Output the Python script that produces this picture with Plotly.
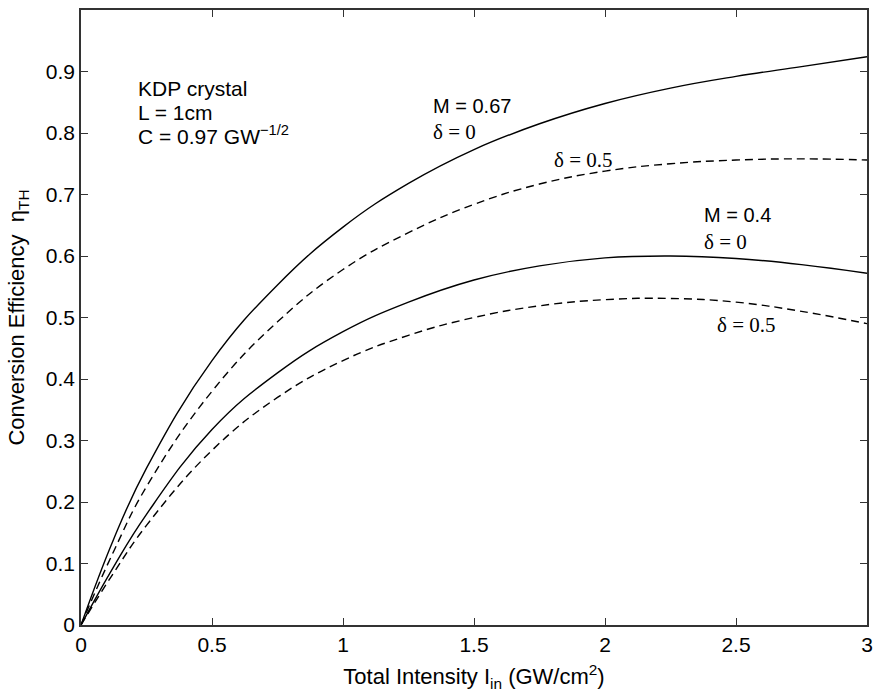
import plotly.graph_objects as go

# Data
intensity = [0, 0.125, 0.25, 0.5, 0.75, 1.0, 1.25, 1.5, 1.75, 2.0, 2.25, 2.5, 2.75, 3.0]
eff_m067_d0 = [0, 0.14, 0.255, 0.43, 0.553, 0.647, 0.718, 0.773, 0.815, 0.848, 0.873, 0.892, 0.908, 0.924]
eff_m067_d05 = [0, 0.12, 0.225, 0.38, 0.493, 0.578, 0.638, 0.684, 0.717, 0.738, 0.75, 0.756, 0.758, 0.756]
eff_m04_d0 = [0, 0.095, 0.18, 0.318, 0.41, 0.477, 0.525, 0.561, 0.584, 0.597, 0.600, 0.596, 0.586, 0.572]
eff_m04_d05 = [0, 0.085, 0.162, 0.284, 0.37, 0.43, 0.471, 0.50, 0.519, 0.529, 0.531, 0.525, 0.51, 0.49]

x_ticks = [0, 0.5, 1, 1.5, 2, 2.5, 3]
x_tick_labels = ["0", "0.5", "1", "1.5", "2", "2.5", "3"]
y_ticks = [0, 0.1, 0.2, 0.3, 0.4, 0.5, 0.6, 0.7, 0.8, 0.9, 1]
y_tick_labels = ["0", "0.1", "0.2", "0.3", "0.4", "0.5", "0.6", "0.7", "0.8", "0.9", "1"]

SANS = "Liberation Sans, Arial, sans-serif"
SERIF = "Liberation Serif, Times New Roman, serif"

fig = go.Figure()
series = [
    (eff_m067_d0, "solid"),
    (eff_m067_d05, "8px,5px"),
    (eff_m04_d0, "solid"),
    (eff_m04_d05, "8px,5px"),
]
for ys, dash in series:
    fig.add_trace(go.Scatter(
        x=intensity, y=ys, mode="lines",
        line=dict(color="black", width=1.4, dash=dash, shape="spline", smoothing=1.2),
        showlegend=False, hoverinfo="skip",
    ))

axis_common = dict(
    showline=True, linecolor="#333333", linewidth=1.5, mirror="ticks",
    ticks="inside", ticklen=7, tickwidth=1.3, tickcolor="#333333",
    showgrid=False, zeroline=False, automargin=False,
    tickfont=dict(family=SANS, size=21, color="black"),
)

fig.update_layout(
    width=874, height=692,
    margin=dict(l=81, r=7, t=10, b=67),
    paper_bgcolor="white", plot_bgcolor="white",
    xaxis=dict(range=[0, 3], tickvals=x_ticks, ticktext=x_tick_labels,
               title=dict(text="Total Intensity I<sub>in</sub> (GW/cm<sup>2</sup>)",
                          font=dict(family=SANS, size=22, color="black"), standoff=14),
               **axis_common),
    yaxis=dict(range=[0, 1], tickvals=y_ticks, ticktext=y_tick_labels,
               title=dict(text="Conversion Efficiency  η<sub>TH</sub>",
                          font=dict(family=SANS, size=22, color="black"), standoff=15),
               **axis_common),
)

annotations = [
    dict(x=0.21, y=0.872, text="KDP crystal", font=dict(family=SANS, size=21, color="black")),
    dict(x=0.21, y=0.834, text="L = 1cm", font=dict(family=SANS, size=21, color="black")),
    dict(x=0.21, y=0.797, text="C = 0.97 GW<sup>−1/2</sup>", font=dict(family=SANS, size=21, color="black")),
    dict(x=1.335, y=0.844, text="M = 0.67", font=dict(family=SANS, size=20, color="black")),
    dict(x=1.335, y=0.802, text="δ = 0", font=dict(family=SERIF, size=21, color="black")),
    dict(x=1.797, y=0.756, text="δ = 0.5", font=dict(family=SERIF, size=21, color="black")),
    dict(x=2.372, y=0.666, text="M = 0.4", font=dict(family=SANS, size=20, color="black")),
    dict(x=2.372, y=0.623, text="δ = 0", font=dict(family=SERIF, size=21, color="black")),
    dict(x=2.42, y=0.488, text="δ = 0.5", font=dict(family=SERIF, size=21, color="black")),
]
for a in annotations:
    fig.add_annotation(xref="x", yref="y", xanchor="left", yanchor="middle",
                       showarrow=False, **a)

fig.write_html("out.html")
